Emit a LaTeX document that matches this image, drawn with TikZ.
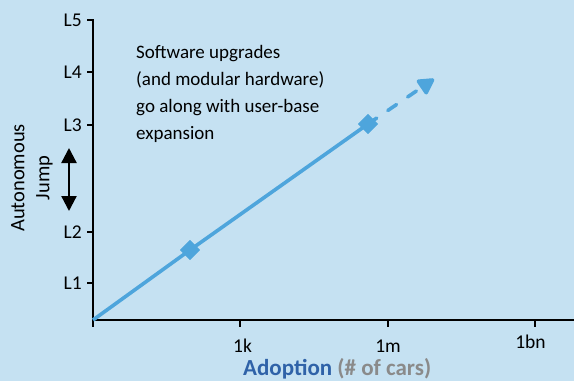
\documentclass[tikz,border=0pt]{standalone}
\usepackage{fontspec}
\setmainfont{Carlito}
\usetikzlibrary{arrows.meta,shapes.geometric}
\definecolor{bg}{HTML}{C5E1F2}
\definecolor{dblue}{HTML}{4EA5DC}
\definecolor{adopt}{HTML}{2F62A8}
\definecolor{gr}{HTML}{8A8A8A}
\begin{document}
\begin{tikzpicture}[x=1pt,y=-1pt,
  axis/.style={line width=2pt},
  tick/.style={line width=1.5pt},
  lbl/.style={font=\fontsize{19.5}{22}\selectfont, inner sep=0pt},
  mk/.style={diamond, fill=dblue, minimum size=20pt, inner sep=0pt},
  data/.style={dblue, line width=3.6pt}]
\fill[bg] (0,0) rectangle (574,381);
\useasboundingbox (0,0) rectangle (574,381);
% axes
\coordinate (o) at (93,320);
\coordinate (ytop) at (93,19);
\coordinate (xend) at (574,320);
\draw[axis] (ytop) -- (o) -- (xend);
% y ticks
\foreach \y/\t in {20/L5,72/L4,125/L3,232/L2,283/L1}{
  \draw[tick] (87,\y) -- (93,\y);
  \node[lbl, anchor=east] at (82,\y) {\t};
}
% x ticks
\draw[tick] (93,320) -- (93,327);
\foreach \x in {240,388,535}{
  \draw[tick] (\x,320) -- (\x,327);
}
\node[lbl, anchor=base] (k) at (242.5,352) {1k};
\node[lbl, anchor=base] (m) at (388,352) {1m};
\node[lbl, anchor=base] (bn) at (530.5,348) {1bn};
\node[font=\fontsize{23}{26}\selectfont\bfseries, inner sep=0pt, anchor=base west] (xl) at (243,375.5) {\textcolor{adopt}{Adoption} \textcolor{gr}{(\# of cars)}};
% y label
\node[inner sep=0pt, rotate=90, align=center, font=\fontsize{20.5}{25}\selectfont] (yl) at (32,178) {Autonomous\\Jump};
\coordinate (ja) at (69,148);
\coordinate (jb) at (69,211);
\draw[line width=2.3pt, {Triangle[length=15pt,width=15pt]}-{Triangle[length=15pt,width=15pt]}] (ja) -- (jb);
% text
\node[anchor=north west, align=left, inner sep=0pt, font=\fontsize{19}{27}\selectfont] (txt) at (136,45) {Software upgrades\\(and modular hardware)\\go along with user-base\\expansion};
% data
\node[mk] (m1) at (190,250) {};
\node[mk] (m2) at (368,124) {};
\coordinate (tip) at (434,79);
\draw[data] (o) -- (m1.center) -- (m2.center);
\draw[data, line cap=round, dash pattern=on 10.5pt off 13.5pt, -{Triangle[length=18pt,width=19pt,round=false]}] (m2.center) -- (tip);
\node[mk] at (m1) {};
\node[mk] at (m2) {};
\end{tikzpicture}
\end{document}
